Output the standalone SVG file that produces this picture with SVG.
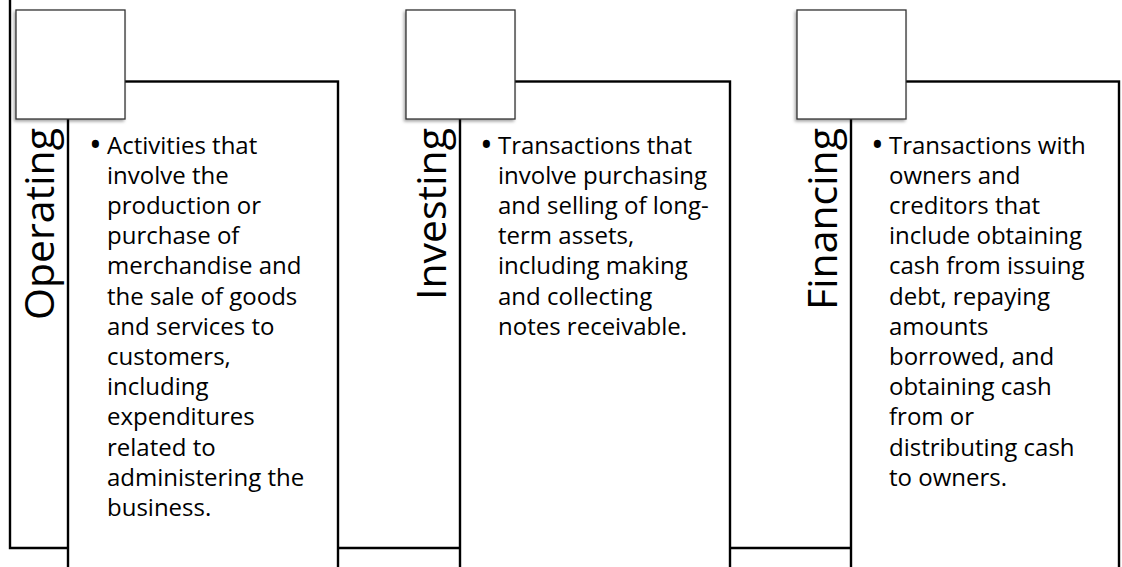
<svg xmlns="http://www.w3.org/2000/svg" width="1122" height="567" viewBox="0 0 1122 567">
  <defs>
    <filter id="sh" x="-20%" y="-20%" width="140%" height="140%">
      <feDropShadow dx="-1.5" dy="2" stdDeviation="1.5" flood-color="#000" flood-opacity="0.35"/>
    </filter>
  </defs>
  <style>
    .ln { fill: none; stroke: #000; stroke-width: 2.4; }
    .box { fill: #fff; stroke: #000; stroke-width: 2.4; }
    .sq { fill: #fff; stroke: #333; stroke-width: 1.3; filter: url(#sh); }
    .lbl { font-family: "Open Sans", "Liberation Sans", sans-serif; font-size: 41px; fill: #000; text-anchor: end; }
    .body { font-family: "Open Sans", "Liberation Sans", sans-serif; font-size: 24px; fill: #000; }
    .bul { font-family: "Open Sans", "Liberation Sans", sans-serif; font-size: 34px; fill: #000; }
  </style>
  <rect width="1122" height="567" fill="#fff"/>

  <g id="operating">
    <path class="ln" d="M10,0 V548 H68"/>
    <rect class="box" x="68" y="81.5" width="270" height="520"/>
    <rect class="sq" x="16" y="10" width="109" height="109"/>
    <text class="lbl" transform="translate(54,128) rotate(-90)">Operating</text>
    <text class="bul" x="89" y="157">•</text>
    <text class="body">
      <tspan x="107" y="153.5">Activities that</tspan>
      <tspan x="107" y="183.7">involve the</tspan>
      <tspan x="107" y="213.9">production or</tspan>
      <tspan x="107" y="244.1">purchase of</tspan>
      <tspan x="107" y="274.3">merchandise and</tspan>
      <tspan x="107" y="304.5">the sale of goods</tspan>
      <tspan x="107" y="334.7">and services to</tspan>
      <tspan x="107" y="364.9">customers,</tspan>
      <tspan x="107" y="395.1">including</tspan>
      <tspan x="107" y="425.3">expenditures</tspan>
      <tspan x="107" y="455.5">related to</tspan>
      <tspan x="107" y="485.7">administering the</tspan>
      <tspan x="107" y="515.9">business.</tspan>
    </text>
  </g>

  <g id="investing">
    <path class="ln" d="M338,548 H460"/>
    <rect class="box" x="460" y="81.5" width="270" height="520"/>
    <rect class="sq" x="406" y="10" width="109" height="109"/>
    <text class="lbl" transform="translate(446,128) rotate(-90)">Investing</text>
    <text class="bul" x="480" y="157">•</text>
    <text class="body">
      <tspan x="498" y="153.5">Transactions that</tspan>
      <tspan x="498" y="183.7">involve purchasing</tspan>
      <tspan x="498" y="213.9">and selling of long-</tspan>
      <tspan x="498" y="244.1">term assets,</tspan>
      <tspan x="498" y="274.3">including making</tspan>
      <tspan x="498" y="304.5">and collecting</tspan>
      <tspan x="498" y="334.7">notes receivable.</tspan>
    </text>
  </g>

  <g id="financing">
    <path class="ln" d="M730,548 H851"/>
    <rect class="box" x="851" y="81.5" width="268" height="520"/>
    <rect class="sq" x="797" y="10" width="109" height="109"/>
    <text class="lbl" transform="translate(837,128) rotate(-90)">Financing</text>
    <text class="bul" x="871" y="157">•</text>
    <text class="body">
      <tspan x="889" y="153.5">Transactions with</tspan>
      <tspan x="889" y="183.7">owners and</tspan>
      <tspan x="889" y="213.9">creditors that</tspan>
      <tspan x="889" y="244.1">include obtaining</tspan>
      <tspan x="889" y="274.3">cash from issuing</tspan>
      <tspan x="889" y="304.5">debt, repaying</tspan>
      <tspan x="889" y="334.7">amounts</tspan>
      <tspan x="889" y="364.9">borrowed, and</tspan>
      <tspan x="889" y="395.1">obtaining cash</tspan>
      <tspan x="889" y="425.3">from or</tspan>
      <tspan x="889" y="455.5">distributing cash</tspan>
      <tspan x="889" y="485.7">to owners.</tspan>
    </text>
  </g>

  <g id="connectors"/>
</svg>
